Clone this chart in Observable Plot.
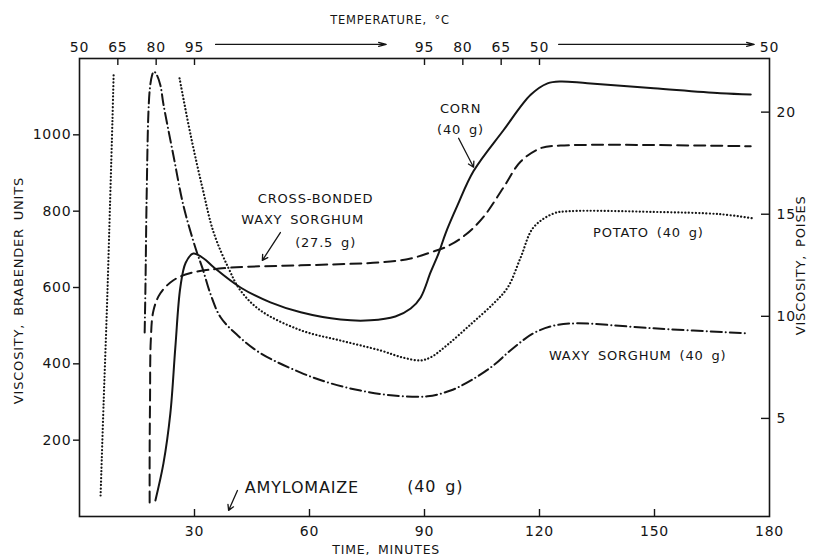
<!DOCTYPE html>
<html><head><meta charset="utf-8">
<script src="https://cdn.jsdelivr.net/npm/d3@7"></script>
<script src="https://cdn.jsdelivr.net/npm/@observablehq/plot@0.6"></script>
<style>body{margin:0;background:#fff}#chart{width:816px;height:559px}</style>
</head><body><div id="chart"></div>
<script>
// ---- data (time in minutes, viscosity in Brabender units) ----
const cornT = [19.8,21.9,23.7,25.0,26.3,27.7,29.7,32.4,35.0,42.0,49.8,57.7,68.1,75.9,82.4,86.4,89.0,91.6,93.7,95.5,98.6,102.8,110.6,117.7,122.1,125.5,132.5,149.8,167.2,175.1];
const cornV = [42,139,270,443,600,665,689,676,653,600,561,535,516,514,524,545,574,640,690,742,815,905,1012,1105,1135,1140,1135,1122,1109,1106];

const crossT = [18.3,18.3,18.4,18.6,19.3,21.1,24.5,29.0,39.4,57.7,78.5,86.4,91.6,96.0,100.7,105.4,110.6,115.1,120.3,125.5,175.1];
const crossV = [37,173,304,461,540,585,619,638,652,658,666,676,692,708,738,785,862,930,965,972,970];

const potatoRiseT = [5.5,6.3,7.2,8.0,8.6,8.9];
const potatoRiseV = [55,300,560,830,1040,1156];
const potatoFallT = [26.1,29.0,32.1,35.0,38.9,42.0,47.2,57.7,68.1,78.5,84.5,89.0,91.6,96.0,102.0,108.0,111.7,115.1,118.4,123.7,128.1,149.8,167.2,175.8];
const potatoFallV = [1148,999,860,744,650,592,540,488,461,435,416,409,417,450,503,558,600,679,757,794,800,798,792,781];

const waxyT = [17.0,17.2,17.5,18.0,18.4,18.9,19.4,20.1,21.1,21.9,24.5,27.1,30.3,32.1,34.2,36.8,41.2,47.2,57.7,65.5,73.3,81.9,90.8,96.8,102.0,108.0,112.4,118.4,123.7,129.4,149.8,174.3];
const waxyV = [482,598,828,1064,1125,1155,1166,1158,1130,1080,946,815,702,650,582,522,475,428,377,349,330,317,315,330,356,396,435,480,500,506,493,480];

// ---- axes ----
const timeTicks = [30,60,90,120,150,180];
const buTicks = [200,400,600,800,1000];
const poiseTicks = [5,10,15,20];
const poiseToBU = p => 53.5 * p - 10.5;         // right-axis conversion
const buToPoise = v => (v + 10.5) / 53.5;
const tempTimes = [0,10,20,30,90,100,110,120,180];
const tempLabels = ["50","65","80","95","95","80","65","50","50"];

// ---- annotations (time, BU) ----
const labels = [
  {t:99.4, v:1069, s:"CORN", f:13},
  {t:99.4, v:1012, s:"(40 g)", f:13},
  {t:61.6, v:833, s:"CROSS-BONDED", f:13},
  {t:58.2, v:776, s:"WAXY SORGHUM", f:13},
  {t:64.2, v:718, s:"(27.5 g)", f:13},
  {t:148.4, v:744, s:"POTATO (40 g)", f:13},
  {t:145.6, v:420, s:"WAXY SORGHUM (40 g)", f:13},
  {t:58.0, v:75, s:"AMYLOMAIZE", f:16},
  {t:92.8, v:78, s:"(40 g)", f:16}
];
const pointers = [
  {t1:98.9, v1:991, t2:102.8, v2:915},
  {t1:52.4, v1:744, t2:47.7, v2:671},
  {t1:41.2, v1:68, t2:38.9, v2:16}
];
const tempArrows = [
  {t1:35.5, t2:80.0},
  {t1:125.0, t2:176.0}
];
const tempArrowBU = 1237;
const titles = [
  {t:81, v:1300, s:"TEMPERATURE, °C", r:0, f:11.5},
  {t:80, v:-89, s:"TIME, MINUTES", r:0, f:12.5},
  {t:-15.9, v:592, s:"VISCOSITY, BRABENDER UNITS", r:-90, f:13},
  {t:188.1, v:658, s:"VISCOSITY, POISES", r:-90, f:13}
];

const rows = (T, V, seg) => T.map((t, i) => ({t, v: V[i], seg}));
const corn = rows(cornT, cornV, "corn");
const cross = rows(crossT, crossV, "cross");
const potato = [...rows(potatoRiseT, potatoRiseV, "p1"), ...rows(potatoFallT, potatoFallV, "p2")];
const waxy = rows(waxyT, waxyV, "waxy");

const W = 816, H = 559, mL = 79, mR = 47, mT = 58, mB = 43;
const fw = W - mL - mR, fh = H - mT - mB;
const ink = "#151515";
const font = "DejaVu Sans";

const chart = Plot.plot({
  width: W, height: H,
  marginLeft: mL, marginRight: mR, marginTop: mT, marginBottom: mB,
  x: {domain: [0, 180]},
  y: {domain: [0, 1200]},
  style: {fontFamily: font, fontSize: "14px", color: ink, background: "#fff", letterSpacing: "0.8px", wordSpacing: "3px"},
  marks: [
    Plot.frame({stroke: ink, strokeWidth: 1.6}),
    Plot.axisY({anchor: "left", ticks: buTicks, tickFormat: d => String(d), tickSize: 6, tickPadding: 2, label: null, strokeWidth: 1.4}),
    Plot.axisY({anchor: "right", ticks: poiseTicks.map(poiseToBU), tickFormat: d => String(Math.round(buToPoise(d))), tickSize: 0, tickPadding: 7, label: null}),
    Plot.tickY(poiseTicks.map(poiseToBU), {y: d => d, insetLeft: fw - 8, stroke: ink, strokeWidth: 1.4}),
    Plot.axisX({anchor: "bottom", ticks: timeTicks, tickFormat: d => String(d), tickSize: 0, tickPadding: 10, label: null}),
    Plot.tickX(timeTicks.slice(0, -1), {x: d => d, insetTop: fh - 7, stroke: ink, strokeWidth: 1.4}),
    Plot.axisX({anchor: "top", ticks: tempTimes, tickFormat: d => tempLabels[tempTimes.indexOf(d)], tickSize: 0, tickPadding: 7, label: null}),
    Plot.tickX(tempTimes.slice(1, -1), {x: d => d, insetBottom: fh - 7, stroke: ink, strokeWidth: 1.4}),
    Plot.arrow(tempArrows, {x1: "t1", x2: "t2", y1: () => tempArrowBU, y2: () => tempArrowBU, stroke: ink, strokeWidth: 1.3, headLength: 9, headAngle: 30}),
    // curves
    Plot.line(corn, {x: "t", y: "v", z: "seg", stroke: ink, strokeWidth: 2, curve: "catmull-rom"}),
    Plot.line(cross, {x: "t", y: "v", z: "seg", stroke: ink, strokeWidth: 2, strokeDasharray: "11,6", curve: "catmull-rom"}),
    Plot.line(potato, {x: "t", y: "v", z: "seg", stroke: ink, strokeWidth: 2.2, strokeDasharray: "0.1,3.4", strokeLinecap: "round", curve: "catmull-rom"}),
    Plot.line(waxy, {x: "t", y: "v", z: "seg", stroke: ink, strokeWidth: 2, strokeDasharray: "11,4,0.1,4", strokeLinecap: "round", curve: "catmull-rom"}),
    // annotations
    Plot.arrow(pointers, {x1: "t1", y1: "v1", x2: "t2", y2: "v2", stroke: ink, strokeWidth: 1.3, headLength: 7}),
    Plot.text(labels, {x: "t", y: "v", text: "s", fontSize: "f", fill: ink, fontFamily: font}),
    Plot.text(titles, {x: "t", y: "v", text: "s", rotate: "r", fontSize: "f", fill: ink, fontFamily: font})
  ]
});
document.getElementById("chart").appendChild(chart);
</script>
</body></html>
